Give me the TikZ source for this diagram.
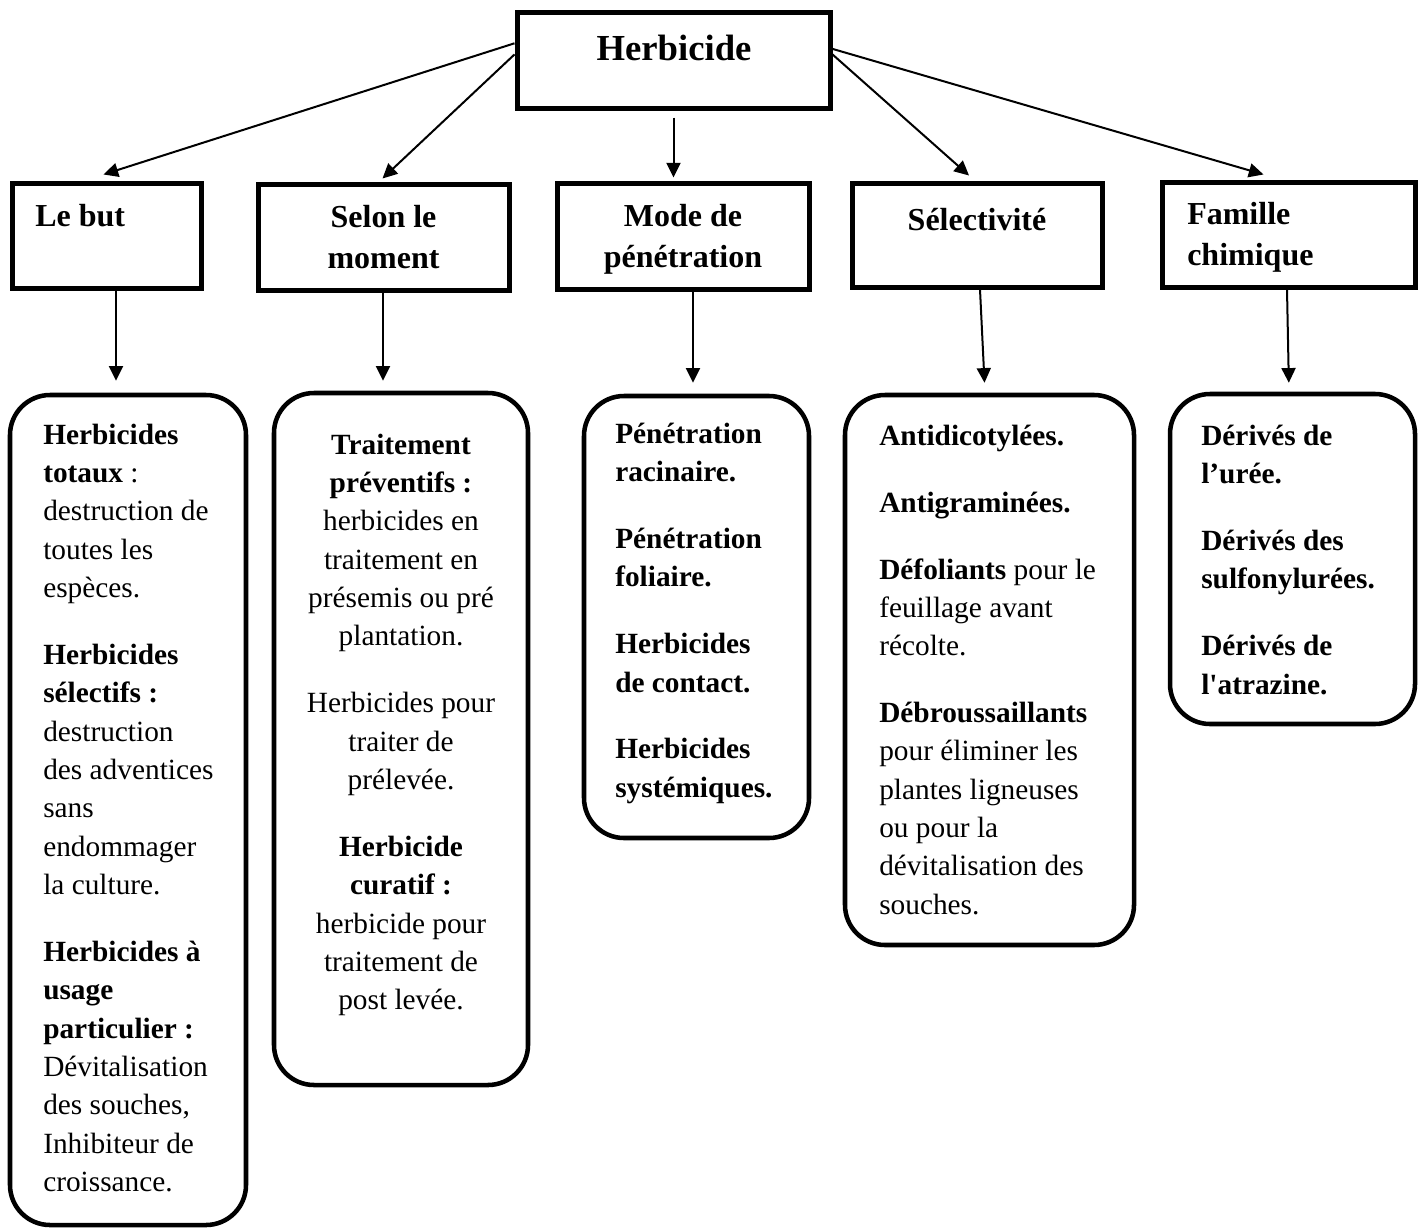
\documentclass[tikz,border=0pt]{standalone}
\usepackage{fontspec}
\setmainfont{Liberation Serif}[Ligatures=TeXOff]
\usetikzlibrary{arrows.meta,fit,calc}
\newcommand\bodyfont{\fontsize{22pt}{28.75pt}\selectfont}
\newcommand\catfont{\fontsize{24pt}{31pt}\selectfont\bfseries}
\newcommand\titlefont{\fontsize{27.5pt}{33pt}\selectfont\bfseries}
\newcommand\pgap{\\[21.4pt]}
\begin{document}
\begin{tikzpicture}[x=0.75pt,y=-0.75pt,
  sqbox/.style={draw, line width=3.75pt, inner sep=0pt},
  rbox/.style={draw, line width=3.4pt, inner sep=0pt, rounded corners=30pt},
  bodyl/.style={font=\bodyfont, inner sep=0pt, align=left, anchor=north west},
  bodyc/.style={font=\bodyfont, inner sep=0pt, align=center, anchor=north},
  cat/.style={font=\catfont, inner sep=0pt},
  arr/.style={line width=1.5pt, -{Triangle[length=11pt,width=10.5pt]}}]
\useasboundingbox (0,0) rectangle (1423,1228);

% boxes
\node[sqbox, fit={(517,12) (830,108)}] (title) {};
\node[sqbox, fit={(12,183) (201,288)}] (lebut) {};
\node[sqbox, fit={(258,184) (509,290)}] (selon) {};
\node[sqbox, fit={(557,183) (809,289)}] (mode) {};
\node[sqbox, fit={(852,183) (1102,287)}] (sel) {};
\node[sqbox, fit={(1162,182) (1415,287)}] (fam) {};

\node[rbox, fit={(10,395) (246,1225)}] (box1) {};
\node[rbox, fit={(274,393) (528,1085)}] (box2) {};
\node[rbox, fit={(584,396) (809,838)}] (box3) {};
\node[rbox, fit={(845,395) (1134,945)}] (box4) {};
\node[rbox, fit={(1170,394) (1415,724)}] (box5) {};

% labels
\node[font=\titlefont, inner sep=0pt, anchor=base] (titletxt) at (674,60) {Herbicide};
\node[cat, anchor=base west] (lebuttxt) at (35,226) {Le but};
\node[cat, anchor=north, align=center] (selontxt) at (383.5,198.1) {\strut Selon le\\moment};
\node[cat, anchor=north, align=center] (modetxt) at (683,197.1) {\strut Mode de\\pénétration};
\node[cat, anchor=base] (seltxt) at (977,230) {Sélectivité};
\node[cat, anchor=north west, align=left] (famtxt) at (1187,195.1) {\strut Famille\\chimique};

% box texts
\node[bodyl] (t1) at (43,417.2) {\strut\textbf{Herbicides}\\
\textbf{totaux} :\\
destruction de\\
toutes les\\
espèces.\pgap
\textbf{Herbicides}\\
\textbf{sélectifs :}\\
destruction\\
des adventices\\
sans\\
endommager\\
la culture.\pgap
\textbf{Herbicides à}\\
\textbf{usage}\\
\textbf{particulier :}\\
Dévitalisation\\
des souches,\\
Inhibiteur de\\
croissance.};

\node[bodyc] (t2) at (401,427.2) {\strut\textbf{Traitement}\\
\textbf{préventifs :}\\
herbicides en\\
traitement en\\
présemis ou pré\\
plantation.\pgap
Herbicides pour\\
traiter de\\
prélevée.\pgap
\textbf{Herbicide}\\
\textbf{curatif :}\\
herbicide pour\\
traitement de\\
post levée.};

\node[bodyl, font=\bodyfont\bfseries] (t3) at (615,416.2) {\strut Pénétration\\
racinaire.\pgap
Pénétration\\
foliaire.\pgap
Herbicides\\
de contact.\pgap
Herbicides\\
systémiques.};

\node[bodyl] (t4) at (879,418.2) {\strut\textbf{Antidicotylées.}\pgap
\textbf{Antigraminées.}\pgap
\textbf{Défoliants} pour le\\
feuillage avant\\
récolte.\pgap
\textbf{Débroussaillants}\\
pour éliminer les\\
plantes ligneuses\\
ou pour la\\
dévitalisation des\\
souches.};

\node[bodyl, font=\bodyfont\bfseries] (t5) at (1201,418.2) {\strut Dérivés de\\
l’urée.\pgap
Dérivés des\\
sulfonylurées.\pgap
Dérivés de\\
l'atrazine.};

% connectors from title
\coordinate (m3) at (title.south |- mode.north);
\draw[arr] (title.174.5) -- ([shift={(-3,-6)}]lebut.north);
\draw[arr] (title.178.9) -- ([shift={(-1,-3)}]selon.north);
\draw[arr] ([shift={(0,7)}]title.south) -- ([shift={(0,-3)}]m3);
\draw[arr] (title.2.9) -- ([shift={(-8,-5)}]sel.north);
\draw[arr] (title.4.75) -- ([shift={(-25,-5)}]fam.north);

% vertical connectors
\draw[arr, shorten >=9pt] (lebut.south -| 116,0) -- (box1.north -| 116,0);
\draw[arr, shorten >=7.5pt] (selon.south -| 383,0) -- (box2.north -| 383,0);
\draw[arr, shorten >=8.25pt] (mode.south -| 693,0) -- (box3.north -| 693,0);
\draw[arr, shorten >=7.5pt] (sel.south -| 980,0) -- (box4.north -| 985,0);
\draw[arr, shorten >=6.75pt] (fam.south -| 1287,0) -- (box5.north -| 1289,0);
\end{tikzpicture}
\end{document}
